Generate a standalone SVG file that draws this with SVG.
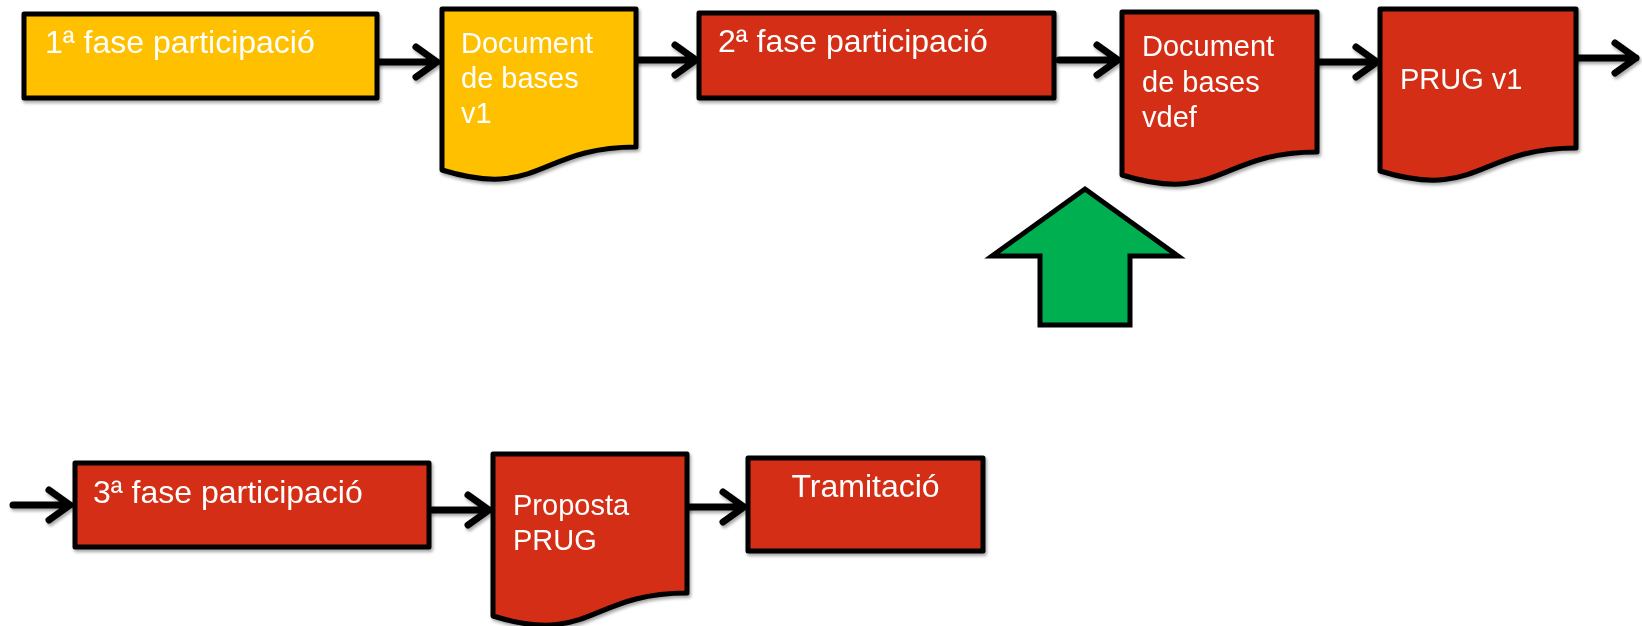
<svg xmlns="http://www.w3.org/2000/svg" width="1642" height="626" viewBox="0 0 1642 626">
<defs>
<style>
.box{stroke:#000;stroke-width:5;stroke-linejoin:round}
.y{fill:#FFC000}
.r{fill:#D42D12}
.t{font-family:"Liberation Sans",Arial,sans-serif;fill:#fff}
.tb{font-size:32px}
.td{font-size:29px}
.conn path{fill:none;stroke:#000;stroke-width:7;stroke-linecap:round;stroke-linejoin:round}
</style>
<filter id="sh" x="-10%" y="-20%" width="130%" height="160%">
<feDropShadow dx="1.5" dy="2.5" stdDeviation="1.5" flood-color="#000" flood-opacity="0.35"/>
</filter>
</defs>
<rect width="1642" height="626" fill="#fff"/>

<g id="connectors" class="conn" filter="url(#sh)">
<path d="M379 62H437M416 47L437 62L416 77"/>
<path d="M637 60H696M675 45L696 60L675 75"/>
<path d="M1059 60H1118M1097 45L1118 60L1097 75"/>
<path d="M1318 62H1377M1356 47L1377 62L1356 77"/>
<path d="M1577 58H1636M1615 43L1636 58L1615 73"/>
<path d="M13 505H70M49 490L70 505L49 520"/>
<path d="M432 510H489M468 495L489 510L468 525"/>
<path d="M687 507H744M723 492L744 507L723 522"/>
</g>

<g id="n1" filter="url(#sh)">
<rect class="box y" x="24" y="14" width="353" height="84"/>
<text class="t tb" x="45" y="53">1ª fase participació</text>
</g>

<g id="n2" filter="url(#sh)">
<path class="box y" d="M442 9H636V147C539 147 539 200 442 170Z"/>
<text class="t td" x="461" y="53">Document</text>
<text class="t td" x="461" y="88">de bases</text>
<text class="t td" x="461" y="123">v1</text>
</g>

<g id="n3" filter="url(#sh)">
<rect class="box r" x="699" y="13" width="355" height="85"/>
<text class="t tb" x="718" y="52">2ª fase participació</text>
</g>

<g id="n4" filter="url(#sh)">
<path class="box r" d="M1122 12H1317V152C1219.5 152 1219.5 205 1122 175Z"/>
<text class="t td" x="1142" y="56">Document</text>
<text class="t td" x="1142" y="92">de bases</text>
<text class="t td" x="1142" y="127">vdef</text>
</g>

<g id="n5" filter="url(#sh)">
<path class="box r" d="M1380 9H1576V148C1478 148 1478 201 1380 171Z"/>
<text class="t td" x="1400" y="89">PRUG v1</text>
</g>

<g id="n6">
<polygon points="1085,189 1178,256 1130,256 1130,325 1040,325 1040,256 992,256" fill="#00B050" stroke="#000" stroke-width="5"/>
</g>

<g id="n7" filter="url(#sh)">
<rect class="box r" x="75" y="463" width="354" height="84"/>
<text class="t tb" x="93" y="503">3ª fase participació</text>
</g>

<g id="n8" filter="url(#sh)">
<path class="box r" d="M493 454H687V593C590 593 590 646 493 616Z"/>
<text class="t td" x="513" y="515">Proposta</text>
<text class="t td" x="513" y="550">PRUG</text>
</g>

<g id="n9" filter="url(#sh)">
<rect class="box r" x="748" y="458" width="235" height="93"/>
<text class="t tb" x="865.5" y="497" text-anchor="middle">Tramitació</text>
</g>
</svg>
